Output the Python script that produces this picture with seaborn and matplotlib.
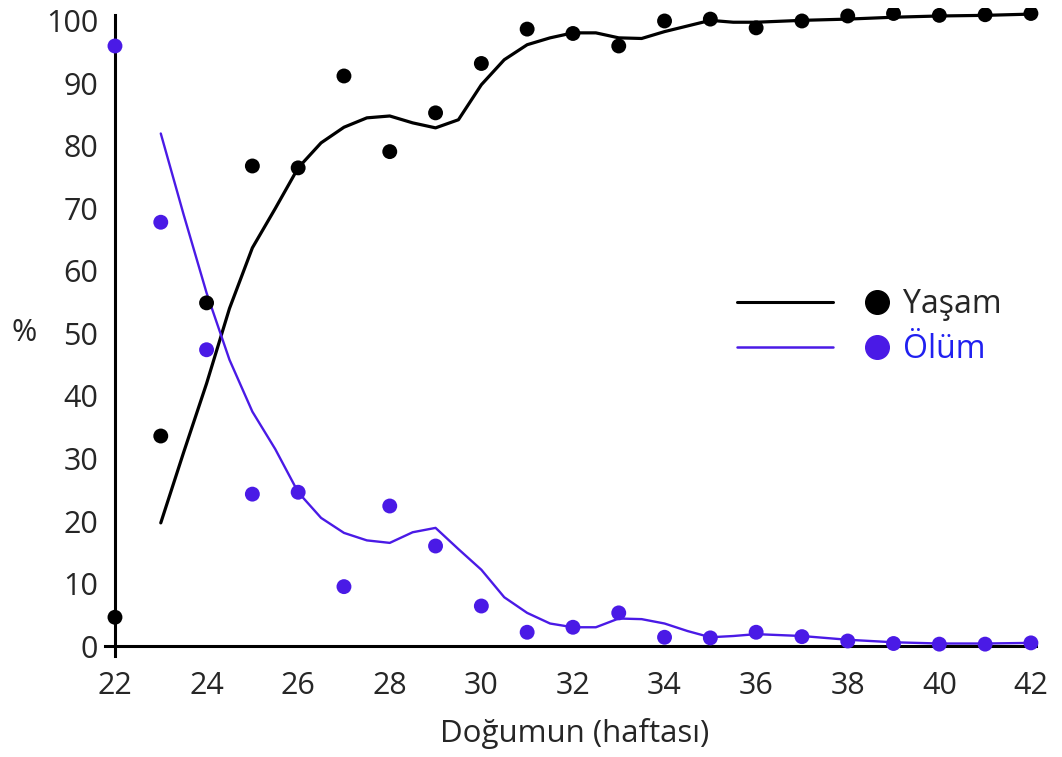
import pandas as pd
import matplotlib.pyplot as plt
import seaborn as sns
from matplotlib.lines import Line2D

# haftalar ve nokta değerleri
weeks = list(range(22, 43))
yasam_pts = [4.6, 33.6, 54.9, 76.8, 76.5, 91.2, 79.1, 85.3, 93.2, 98.7, 98.0,
             96.0, 100.0, 100.3, 98.9, 100.0, 100.8, 101.2, 100.9, 101.0, 101.2]
olum_pts = [96.0, 67.8, 47.4, 24.3, 24.6, 9.5, 22.4, 16.0, 6.4, 2.2, 3.0,
            5.3, 1.4, 1.3, 2.2, 1.5, 0.8, 0.4, 0.3, 0.3, 0.5]

# eğri (trend) değerleri
curve_x = [23, 23.5, 24, 24.5, 25, 25.5, 26, 26.5, 27, 27.5, 28, 28.5, 29, 29.5,
           30, 30.5, 31, 31.5, 32, 32.5, 33, 33.5, 34, 34.5, 35, 35.5, 36, 37,
           38, 39, 40, 41, 42]
yasam_curve = [19.7, 31.0, 42.0, 54.0, 63.7, 70.0, 76.5, 80.5, 83.0, 84.5, 84.8,
               83.7, 82.9, 84.2, 89.8, 93.8, 96.2, 97.3, 98.1, 98.1, 97.3, 97.2,
               98.3, 99.2, 100.1, 99.8, 99.8, 100.1, 100.3, 100.6, 100.8, 100.9,
               101.1]
olum_curve = [82.0, 69.0, 56.5, 45.8, 37.5, 31.5, 24.6, 20.5, 18.1, 16.9, 16.5,
              18.2, 18.9, 15.5, 12.2, 7.8, 5.3, 3.6, 3.0, 3.0, 4.4, 4.3, 3.6,
              2.4, 1.4, 1.6, 1.9, 1.6, 1.0, 0.6, 0.4, 0.4, 0.5]

BLUE = '#4a1ae6'

pts = pd.DataFrame({'hafta': weeks, 'Yaşam': yasam_pts, 'Ölüm': olum_pts})
crv = pd.DataFrame({'hafta': curve_x, 'Yaşam': yasam_curve, 'Ölüm': olum_curve})

sns.set_style("white")
plt.rcParams['font.family'] = ['Open Sans', 'DejaVu Sans']

fig = plt.figure(figsize=(10.62, 7.57), dpi=100)
ax = fig.add_axes([0.0867, 0.1301, 0.9056, 0.8587])

sns.lineplot(data=crv, x='hafta', y='Yaşam', color='black', lw=2.3, ax=ax, sort=False)
sns.lineplot(data=crv, x='hafta', y='Ölüm', color=BLUE, lw=1.7, ax=ax, sort=False)
sns.scatterplot(data=pts, x='hafta', y='Yaşam', color='black', s=115,
                edgecolor='none', ax=ax, zorder=3)
sns.scatterplot(data=pts, x='hafta', y='Ölüm', color=BLUE, s=115,
                edgecolor='none', ax=ax, zorder=3)

ax.set_xlim(21.5, 42.5)
ax.set_ylim(-2, 102)
ax.spines['top'].set_visible(False)
ax.spines['right'].set_visible(False)
ax.spines['left'].set_position(('data', 22))
ax.spines['bottom'].set_position(('data', 0))
ax.spines['left'].set_bounds(-1.6, 101)
ax.spines['bottom'].set_bounds(21.78, 42.1)
for s in ['left', 'bottom']:
    ax.spines[s].set_color('black')
    ax.spines[s].set_linewidth(2.2)

ax.set_xticks(range(22, 43, 2))
ax.set_yticks(range(0, 101, 10))
ax.tick_params(axis='y', length=0, pad=12, labelsize=22)
ax.tick_params(axis='x', length=0, pad=18, labelsize=22)

ax.set_xlabel('Doğumun (haftası)', fontsize=22.5)
ax.xaxis.set_label_coords(0.502, -0.1146)
ax.xaxis.label.set_va('center')
ax.set_ylabel('%', fontsize=22, rotation=0)
ax.yaxis.set_label_coords(-0.0707, 0.5008)
ax.yaxis.label.set_va('center')

# lejant: çizgiler ve noktalar ayrı
line_handles = [Line2D([], [], color='black', lw=2.2),
                Line2D([], [], color=BLUE, lw=1.8)]
leg1 = ax.legend(handles=line_handles, labels=['', ''], loc='center left',
                 bbox_to_anchor=(0.694, 0.568), bbox_transform=fig.transFigure,
                 frameon=False, fontsize=23, handlelength=3.0, borderpad=0,
                 borderaxespad=0, labelspacing=0.375, handletextpad=0)
ax.add_artist(leg1)
dot_handles = [Line2D([], [], color='black', marker='o', ls='none', ms=17),
               Line2D([], [], color=BLUE, marker='o', ls='none', ms=17)]
leg2 = ax.legend(handles=dot_handles, labels=['Yaşam', 'Ölüm'], loc='center left',
                 bbox_to_anchor=(0.8126, 0.568), bbox_transform=fig.transFigure,
                 frameon=False, fontsize=23, handlelength=0.875, borderpad=0,
                 borderaxespad=0, labelspacing=0.375, handletextpad=0.375)
leg2.get_texts()[1].set_color('#2020f0')

fig.savefig('out.png', dpi=100)
